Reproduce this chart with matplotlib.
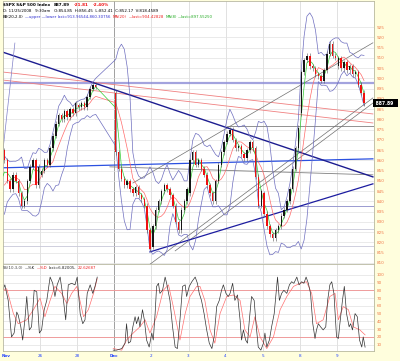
import numpy as np
import pandas as pd
import matplotlib
matplotlib.use('Agg')
import matplotlib.pyplot as plt

# --- 30 minute closes for each session ---
nov24_tail = [836, 842, 846, 849, 851, 852]
nov25 = [860, 850, 846, 853, 850, 844, 838, 840, 850, 857, 860, 848, 857]
nov26 = [855, 860, 858, 866, 872, 878, 882, 880, 884, 881, 885, 883, 888]
nov28 = [886, 888, 886, 891, 895, 897, 896]
dec1 = [864, 856, 851, 848, 850, 846, 844, 847, 843, 841, 838, 826, 817]
dec2 = [828, 836, 840, 845, 848, 846, 843, 838, 830, 826, 836, 840, 846]
dec3 = [860, 864, 858, 860, 856, 853, 848, 844, 840, 850, 858, 864, 869]
dec4 = [873, 875, 870, 866, 867, 863, 861, 865, 869, 866, 852, 838, 845]
dec5 = [834, 828, 824, 822, 826, 828, 833, 836, 840, 846, 856, 866, 876]
dec8 = [903, 909, 911, 906, 905, 902, 901, 899, 904, 912, 917, 911, 910]
dec9 = [910, 905, 908, 904, 906, 902, 903, 897, 893, 887.89]

sessions = [nov24_tail, nov25, nov26, nov28, dec1, dec2, dec3, dec4, dec5, dec8, dec9]
session_open = [830, 865, 853, 887, 893, 818, 844, 869, 844, 883, 906]
session_day = [-1, 0, 1, 2, 3, 4, 5, 6, 7, 8, 9]
session_first_bar = [7, 0, 0, 0, 0, 0, 0, 0, 0, 0, 0]
bars_per_day = 13

day_labels = ['Nov', '26', '28', 'Dec', '2', '3', '4', '5', '8', '9']

# --- drawn trend lines: (day, price) end points ---
navy_down = ([-0.03, 9.97], [913.0, 852.0])
navy_up = ([3.96, 9.97], [815.4, 848.6])
lavender_flat = ([0, 10], [897.8, 897.8])
blue_flat = ([-0.08, 9.97], [856.4, 860.8])
red_a = ([-0.03, 9.97], [903.2, 882.7])
red_b = ([-0.03, 9.97], [899.3, 878.3])
gray_flat = ([6.04, 10], [876.9, 876.9])
gray_slope = ([2.88, 9.97], [856.9, 853.0])
chan_top = ([3.50, 9.97], [849.0, 917.4])
chan_low1 = ([3.83, 9.97], [807.6, 890.5])
chan_low2 = ([4.64, 9.97], [815.9, 888.0])
slate_flat = ([0, 10], [837.8, 837.8])
faint_flats = [826.5, 818.5]
slate_steep = ([-0.03, 0.32], [860.3, 917.3])

# --- slow stochastic (10,3) traced ---
k_t = [-0.04, 0.05, 0.14, 0.23, 0.30, 0.37, 0.41, 0.48, 0.53, 0.59, 0.64, 0.71, 0.77,
       0.84, 0.91, 0.98, 1.04, 1.11, 1.18, 1.27, 1.34, 1.40, 1.46, 1.54, 1.63, 1.69,
       1.76, 1.85, 1.94, 2.00, 2.08, 2.15, 2.21, 2.27, 2.35, 2.42, 2.48, 2.54,
       2.75,
       2.97, 3.06, 3.20, 3.29, 3.33, 3.38, 3.44, 3.50, 3.56, 3.60, 3.65, 3.69, 3.76, 3.81, 3.87, 3.94,
       4.01, 4.05, 4.10, 4.14, 4.19, 4.23, 4.30, 4.37, 4.41, 4.50, 4.57, 4.64, 4.70, 4.77, 4.84, 4.91, 4.95,
       5.02, 5.09, 5.18, 5.24, 5.29, 5.35, 5.42, 5.49, 5.56, 5.63, 5.69, 5.76, 5.83, 5.89, 5.94,
       6.01, 6.07, 6.12, 6.19, 6.25, 6.32, 6.39, 6.43, 6.48, 6.54, 6.59, 6.64, 6.70, 6.77, 6.82, 6.88, 6.95,
       7.02, 7.06, 7.11, 7.18, 7.24, 7.31, 7.36, 7.40, 7.45, 7.51, 7.57, 7.65, 7.72, 7.78, 7.84, 7.92, 7.98,
       8.05, 8.11, 8.17, 8.23, 8.29, 8.35, 8.41, 8.45, 8.50, 8.56, 8.63, 8.70, 8.75, 8.81, 8.86, 8.92, 8.99,
       9.04, 9.08, 9.15, 9.20, 9.26, 9.33, 9.37, 9.42, 9.49, 9.55, 9.61, 9.67, 9.71, 9.76]
k_val = [76, 87, 67, 20, 25, 52, 48, 33, 16, 42, 72, 29, 33, 80, 78, 25, 29, 55, 67, 97,
         89, 72, 87, 97, 67, 42, 87, 89, 87, 97, 50, 37, 42, 76, 87, 76, 85, 97,
         np.nan,
         3, 3, 5, 12, 37, 12, 14, 33, 46, 37, 46, 33, 55, 42, 16, 7,
         25, 16, 50, 85, 89, 76, 80, 97, 89, 67, 33, 7, 5, 42, 85, 87, 72,
         85, 91, 97, 89, 76, 67, 50, 29, 12, 5, 20, 59, 67, 80, 87,
         76, 72, 76, 89, 67, 74, 42, 16, 29, 16, 12, 42, 72, 67, 37, 7, 3,
         12, 25, 7, 16, 33, 50, 76, 97, 67, 76, 80, 76, 87, 91, 89, 97, 87,
         91, 89, 97, 89, 76, 37, 18, 29, 37, 33, 29, 33, 67, 87, 91, 76, 20,
         18, 37, 67, 85, 50, 33, 37, 29, 50, 46, 16, 7, 20, 6.82]
d_t = [-0.08, 0.10, 0.28, 0.41, 0.64, 0.82, 1.00, 1.13, 1.27, 1.40, 1.58, 1.72, 1.85,
       1.99, 2.17, 2.30, 2.44, 2.54, 2.75, 2.97, 3.20, 3.33, 3.51, 3.69, 3.83, 3.96,
       4.14, 4.32, 4.46, 4.59, 4.77, 4.91, 5.04, 5.22, 5.31, 5.44, 5.58, 5.71, 5.85,
       6.03, 6.21, 6.39, 6.52, 6.66, 6.79, 6.93, 7.11, 7.29, 7.47, 7.65, 7.83, 8.01,
       8.18, 8.32, 8.45, 8.63, 8.81, 8.95, 9.04, 9.17, 9.31, 9.44, 9.62, 9.76]
d_val = [80, 82, 50, 37, 42, 55, 70, 46, 67, 85, 76, 63, 76, 85, 46, 55, 76, 95, np.nan,
         5, 3, 16, 25, 33, 42, 25, 46, 80, 87, 59, 16, 50, 72, 85, 85, 67, 29, 12, 50,
         72, 74, 67, 29, 20, 46, 20, 5, 20, 55, 72, 85, 89, 91, 76, 37, 42, 72, 76, 42,
         59, 55, 33, 29, 22.6]

# --- build bar series ---
t, o, c = [], [], []
for day, first, op, closes in zip(session_day, session_first_bar, session_open, sessions):
    prev = op
    for k, cl in enumerate(closes):
        t.append(day + (first + k + 0.5) / bars_per_day)
        o.append(prev)
        c.append(cl)
        prev = cl
t, o, c = np.array(t), np.array(o, float), np.array(c, float)

s = pd.Series(c)
ma_long = s.rolling(7).mean()
ma_short = s.rolling(3).mean()
sd = s.rolling(7).std(ddof=0)
bb_up = ma_long + 2 * sd
bb_lo = ma_long - 2 * sd

W, H = 400, 361
BG = '#fffedd'
LAB = '#f07848'
fig = plt.figure(figsize=(W / 100, H / 100), dpi=100, facecolor=BG)

ax = fig.add_axes([3 / W, 1 - 264 / H, 371 / W, 263 / H])
ax2 = fig.add_axes([3 / W, 1 - 351 / H, 371 / W, 87 / H], sharex=ax)

for a in (ax, ax2):
    a.set_facecolor('white')
    for sp in a.spines.values():
        sp.set_color('#b8b8a0')
        sp.set_linewidth(0.6)
    for d in range(1, 10):
        a.axvline(d, color='#909090' if d == 3 else '#dcdcdc', lw=0.6, zorder=0)
    a.yaxis.tick_right()
    a.tick_params(axis='y', length=0, pad=2, labelsize=3, labelcolor=LAB)
    a.tick_params(axis='x', length=0, labelbottom=False)
    a.grid(axis='y', color='#e2e2e2', lw=0.5)
    a.set_axisbelow(True)

ax.set_xlim(0, 10)
ax.set_ylim(809.5, 937.8)
ax.set_yticks(np.arange(810, 926, 5))

# trend lines
ax.plot(*lavender_flat, color='#8c8cd6', lw=1.6, alpha=0.8, zorder=2)
ax.plot(*slate_flat, color='#9a9ad0', lw=0.7, zorder=2)
for yv in faint_flats:
    ax.axhline(yv, color='#c8c8d8', lw=0.6, zorder=1)
ax.plot(*red_a, color='#f08080', lw=0.6, zorder=2)
ax.plot(*red_b, color='#f08080', lw=0.6, zorder=2)
ax.plot(*gray_flat, color='#808080', lw=0.6, zorder=2)
ax.plot(*gray_slope, color='#808080', lw=0.6, zorder=2)
ax.plot(*chan_top, color='#707070', lw=0.5, zorder=2)
ax.plot(*chan_low1, color='#707070', lw=0.5, zorder=2)
ax.plot(*chan_low2, color='#707070', lw=0.5, zorder=2)
ax.plot(*blue_flat, color='#2b50e0', lw=0.9, zorder=2)
ax.plot(*navy_down, color='#1c1c90', lw=1.0, zorder=2)
ax.plot(*navy_up, color='#1c1ca0', lw=0.9, zorder=2)
ax.plot(*slate_steep, color='#8080c8', lw=0.5, zorder=2)

# bollinger + moving averages
ax.plot(t, bb_up, color='#6e6ebf', lw=0.5, zorder=3)
ax.plot(t, bb_lo, color='#6e6ebf', lw=0.5, zorder=3)
ax.plot(t, ma_long, color='#ff6a6a', lw=0.5, zorder=3)
ax.plot(t, ma_short, color='#33cc33', lw=0.5, zorder=3)

# candles
bw = 0.5 / bars_per_day
wick = 1.2
up = c >= o
ax.vlines(t, np.minimum(o, c) - wick, np.maximum(o, c) + wick, color='#555555', lw=0.4, zorder=4)
ax.bar(t[up], np.maximum(c - o, 0.5)[up], bottom=o[up], width=bw, color='#151515', lw=0, zorder=5)
ax.bar(t[~up], (o - c)[~up], bottom=c[~up], width=bw, color='#ee1111', lw=0, zorder=5)

# last price box
ax.text(1.0, c[-1], ' 887.89  ', transform=ax.get_yaxis_transform(), ha='left', va='center',
        fontsize=3.3, color='white', fontweight='bold', clip_on=False, zorder=10,
        bbox=dict(boxstyle='square,pad=0.3', fc='black', ec='none'))

# stochastic panel
ax2.set_ylim(1.9, 113.8)
ax2.set_yticks(np.arange(10, 101, 10))
ax2.axhline(20, color='#f09090', lw=0.6)
ax2.axhline(80, color='#f09090', lw=0.6)
ax2.plot(d_t, d_val, color='#ff7070', lw=0.5)
ax2.plot(k_t, k_val, color='#333333', lw=0.5)

# x labels
for d, lab in enumerate(day_labels):
    bold = lab in ('Nov', 'Dec')
    xx = (3 + d * 37.1) / W
    fig.text(xx if d else 2 / W, 1 - 356 / H, lab, ha='left' if d == 0 else 'center', va='center',
             fontsize=3, color='#2040ff', fontweight='bold' if bold else 'normal')

renderer = fig.canvas.get_renderer()


def chain(xp, yp, pieces, size=2.9, gap=1.5):
    # draw text pieces one after another on one line
    x = xp
    for txt, color, bold in pieces:
        tt = fig.text(x / W, 1 - yp / H, txt, ha='left', va='center', fontsize=size,
                      color=color, fontweight='bold' if bold else 'normal')
        x = tt.get_window_extent(renderer).x1 + gap


chain(3, 5, [('$SPX S&P 500 Index', 'black', True), ('887.89', 'black', True),
             ('-21.81', '#ee1111', True), ('-2.40%', '#ee1111', True)], size=3.0, gap=4)
chain(3, 11, [('D: 11/25/2008   9:30am   O:854.85  H:856.45  L:852.41  C:852.17  V:818.4589',
               'black', False)], size=2.9)
chain(3, 17, [('BB(20,2.0)', 'black', False), ('\u2014upper \u2014lower', '#3030d0', False),
              ('last=913.96544,860.30756', '#3030d0', False), ('MA(20)', '#ee2222', False),
              ('\u2014last=904.42828', '#ee2222', False), ('MA(8)', '#22aa22', False),
              ('\u2014last=897.55250', '#22aa22', False)], size=2.8)
chain(3, 268, [('SS(10,3,0)', '#444444', False), ('\u2014%K', '#222222', False),
               ('\u2014%D', '#ee2222', False), ('last=6.82005,', '#222222', False),
               ('22.62687', '#ee2222', False)], size=2.8)

fig.savefig('out.png', dpi=100, facecolor=BG)
